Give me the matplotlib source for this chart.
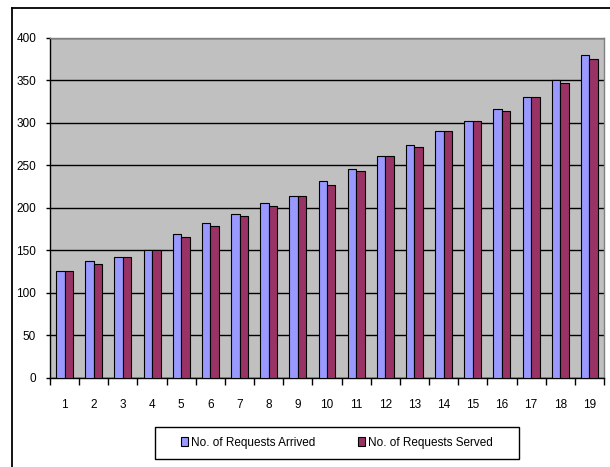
import matplotlib
matplotlib.use("Agg")
import matplotlib.pyplot as plt
from matplotlib.patches import Rectangle
from matplotlib.lines import Line2D
import numpy as np

plt.rcParams['font.family'] = ['Liberation Sans Narrow', 'Liberation Sans', 'DejaVu Sans']

# Requests per interval
intervals = list(range(1, 20))
arrived = [125, 137, 142, 150, 169, 182, 193, 205, 214, 231,
           245, 261, 274, 290, 302, 316, 330, 350, 380]
served = [125, 134, 142, 150, 166, 179, 190, 202, 214, 227,
          243, 261, 272, 290, 302, 314, 330, 347, 375]
series_names = ['No. of Requests Arrived', 'No. of Requests Served']
series_colors = ['#9999FF', '#993366']

W, H = 610, 467
FS = 8.5
fig = plt.figure(figsize=(W / 100, H / 100), dpi=100)
fig.patch.set_facecolor('white')

# outer chart border (left and top edges)
fig.add_artist(Line2D([12 / W, 12 / W], [0, 1 - 8 / H], transform=fig.transFigure,
                      color='black', lw=1.3))
fig.add_artist(Line2D([12 / W, 1], [1 - 8 / H, 1 - 8 / H], transform=fig.transFigure,
                      color='black', lw=1.3))

ax = fig.add_axes([50 / W, 1 - 377.7 / H, 554 / W, 340 / H])
ax.set_facecolor('#C0C0C0')

x = np.arange(1, len(intervals) + 1)
bw = 0.29
ax.bar(x - bw / 2, arrived, bw, color=series_colors[0], edgecolor='black',
       linewidth=0.8, zorder=3, label=series_names[0])
ax.bar(x + bw / 2, served, bw, color=series_colors[1], edgecolor='black',
       linewidth=0.8, zorder=3, label=series_names[1])

ax.set_xlim(0.5, len(intervals) + 0.5)
ax.set_ylim(0, 400)
ax.set_yticks(range(0, 401, 50))
ax.yaxis.grid(True, color='black', lw=1.0, zorder=1)
ax.set_axisbelow(True)

# ticks between categories, labels at centers
ax.set_xticks(np.arange(0.5, len(intervals) + 1, 1))
ax.set_xticklabels([])
ax.set_xticks(x, minor=True)
ax.set_xticklabels([str(i) for i in intervals], minor=True)
ax.tick_params(axis='x', which='major', length=5, width=1, color='black', direction='out')
ax.tick_params(axis='x', which='minor', length=0, pad=15.5, labelsize=FS)
ax.tick_params(axis='y', length=3, width=1, color='black', pad=7, labelsize=FS)

for side in ['left', 'bottom']:
    ax.spines[side].set_color('black')
    ax.spines[side].set_linewidth(1.0)
for side in ['top', 'right']:
    ax.spines[side].set_color('#808080')
    ax.spines[side].set_linewidth(1.0)

# legend box
fig.add_artist(Rectangle((155 / W, 1 - 459 / H), 364 / W, 32 / H,
                         transform=fig.transFigure, facecolor='white',
                         edgecolor='black', lw=1.0, zorder=2))
handles = [Rectangle((0, 0), 1, 1, facecolor=c, edgecolor='black', lw=0.8)
           for c in series_colors]
leg = fig.legend(handles, series_names, loc='center',
                 bbox_to_anchor=(337 / W, 1 - 443 / H), ncol=2, frameon=False,
                 fontsize=FS, handlelength=0.6, handleheight=0.8,
                 handletextpad=0.25, columnspacing=3.6)
leg.set_zorder(3)

fig.savefig('out.png', dpi=100)
